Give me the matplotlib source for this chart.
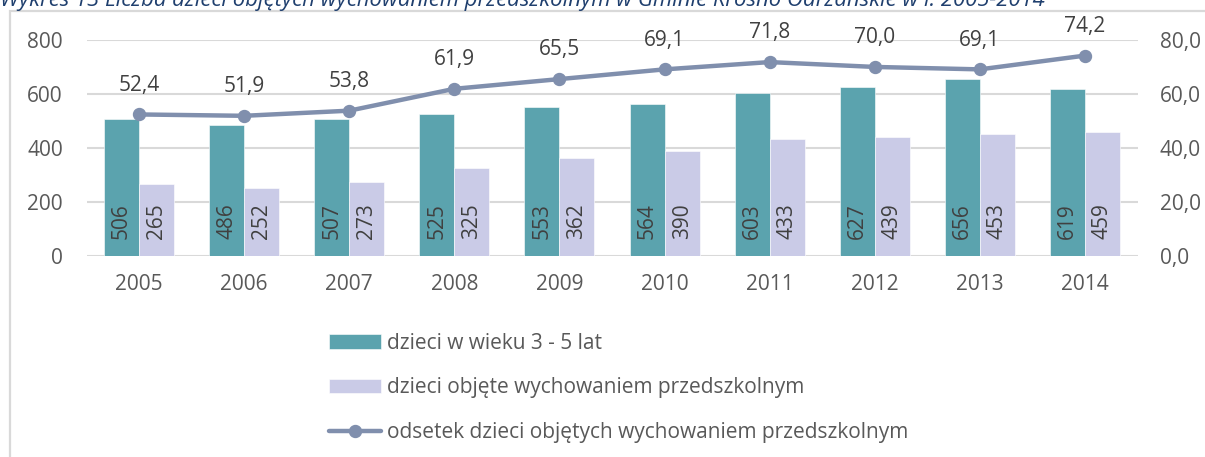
import matplotlib.pyplot as plt
import numpy as np
from matplotlib.patches import Rectangle

years = ['2005', '2006', '2007', '2008', '2009', '2010', '2011', '2012', '2013', '2014']
children_3_5 = [506, 486, 507, 525, 553, 564, 603, 627, 656, 619]
children_preschool = [265, 252, 273, 325, 362, 390, 433, 439, 453, 459]
share_pct = [52.4, 51.9, 53.8, 61.9, 65.5, 69.1, 71.8, 70.0, 69.1, 74.2]

label_bars1 = 'dzieci w wieku 3 - 5 lat'
label_bars2 = 'dzieci objęte wychowaniem przedszkolnym'
label_line = 'odsetek dzieci objętych wychowaniem przedszkolnym'
title = 'Wykres 13 Liczba dzieci objętych wychowaniem przedszkolnym w Gminie Krosno Odrzańskie w l. 2005-2014'

teal = '#5ba3ae'
lavender = '#cacbe7'
line_col = '#808fad'
text_col = '#595959'
grid_col = '#d9d9d9'
fs = 15

plt.rcParams['font.family'] = ['Open Sans', 'DejaVu Sans']

fig = plt.figure(figsize=(12.05, 4.57), dpi=100)
ax = fig.add_axes([0.0718, 0.44, 0.8722, 0.4726])
ax2 = ax.twinx()

x = np.arange(len(years))
w = 0.333
b1 = ax.bar(x - w / 2, children_3_5, w, color=teal, edgecolor='white', linewidth=0.4, label=label_bars1, zorder=2)
b2 = ax.bar(x + w / 2, children_preschool, w, color=lavender, edgecolor='white', linewidth=0.4, label=label_bars2, zorder=2)

for xi, v in zip(x - w / 2, children_3_5):
    ax.annotate(str(v), (xi, 0), xytext=(0, 12), textcoords='offset points',
                rotation=90, ha='center', va='bottom', fontsize=fs, color='#404040', zorder=3)
for xi, v in zip(x + w / 2, children_preschool):
    ax.annotate(str(v), (xi, 0), xytext=(0, 12), textcoords='offset points',
                rotation=90, ha='center', va='bottom', fontsize=fs, color='#404040', zorder=3)

ln, = ax2.plot(x, share_pct, '-o', color=line_col, linewidth=3.2, markersize=8.6,
               solid_capstyle='round', label=label_line, zorder=4)
for xi, v in zip(x, share_pct):
    ax2.annotate(f'{v:.1f}'.replace('.', ','), (xi, v), xytext=(0, 17), textcoords='offset points',
                 ha='center', va='baseline', fontsize=fs, color='#404040')

ax.set_xlim(-0.5, len(years) - 0.5)
ax.set_ylim(0, 800)
ax2.set_ylim(0, 80)
ax.set_yticks([0, 200, 400, 600, 800])
ax2.set_yticks([0, 20, 40, 60, 80])
ax2.set_yticklabels([f'{t:.1f}'.replace('.', ',') for t in [0, 20, 40, 60, 80]])
ax.set_xticks(x)
ax.set_xticklabels(years)

ax.yaxis.grid(True, color=grid_col, linewidth=1.5, zorder=0)
ax.set_axisbelow(True)
for a in (ax, ax2):
    for s in a.spines.values():
        s.set_visible(False)
    a.tick_params(length=0, labelsize=fs, labelcolor=text_col)
ax.tick_params(axis='y', pad=17)
ax2.tick_params(axis='y', pad=16)
ax.tick_params(axis='x', pad=13)

fig.legend([b1, b2, ln], [label_bars1, label_bars2, label_line],
           loc='upper left', bbox_to_anchor=(0.273, 0.272), frameon=False,
           fontsize=fs, labelcolor=text_col, handlelength=2.5, handleheight=0.7,
           handletextpad=0.29, labelspacing=1.14, borderpad=0, borderaxespad=0)

# outer frame
fig.patches.append(Rectangle((10 / 1205, -0.1), 1.2, 1 - 11 / 457 + 0.1, transform=fig.transFigure,
                             fill=False, edgecolor=grid_col, linewidth=1.6))
fig.text(0.0, 1 - 6 / 457, title, fontsize=15.9, style='italic', color='#1f3f6e', va='baseline', ha='left')

fig.savefig('out.png', dpi=100)
